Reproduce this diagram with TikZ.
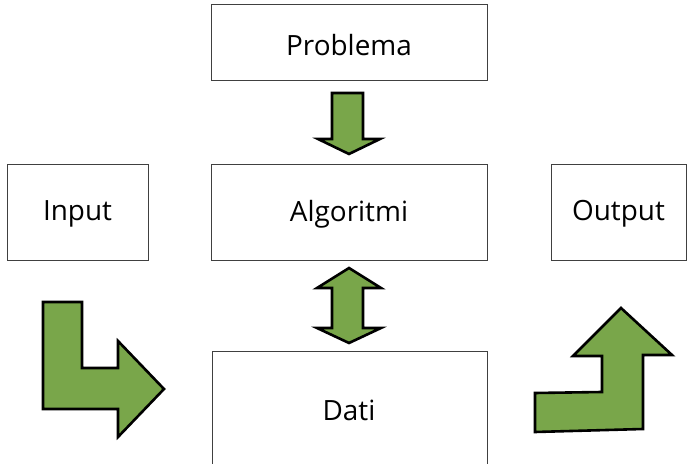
\documentclass[tikz,border=0pt]{standalone}
\usepackage{fontspec}
\setmainfont{Open Sans}
\begin{document}
\begin{tikzpicture}[x=1bp,y=-1bp,
  box/.style={draw=black!75,line width=1bp,fill=white},
  label/.style={font=\fontsize{28}{31}\selectfont,text=black},
  blockarrow/.style={draw=black,line width=2.6bp,fill=arrowgreen,line join=miter}]
\definecolor{arrowgreen}{HTML}{79A64A}
\useasboundingbox (0,0) rectangle (687,464);

% boxes
\draw[box] (211,5) rectangle (487,81);
\draw[box] (7,165) rectangle (148,261);
\draw[box] (211,165) rectangle (487,261);
\draw[box] (551,165) rectangle (686,261);
\draw[box] (212,351) -- (487,351) -- (487,470) (212,351) -- (212,470);

% labels
\node[label] (problema) at (349,45) {Problema};
\node[label] (input) at (77.5,214) {Input};
\node[label] (algoritmi) at (349,214) {Algoritmi};
\node[label] (output) at (618.5,214) {Output};
\node[label] (dati) at (349,410) {Dati};

% down arrow from Problema to Algoritmi
\draw[blockarrow] (332,93) -- (363,93) -- (363,139) -- (380,139) -- (349,154)
  -- (318,139) -- (332,139) -- cycle;

% two-way arrow between Algoritmi and Dati
\draw[blockarrow] (349,268) -- (381,288) -- (363,288) -- (363,328) -- (381,328)
  -- (349,343) -- (317,328) -- (332,328) -- (332,288) -- (317,288) -- cycle;

% bent arrow from Input into Dati
\draw[blockarrow] (43,302) -- (82,302) -- (82,368) -- (118,368) -- (118,341)
  -- (164,389) -- (118,437) -- (118,409) -- (43,409) -- cycle;

% bent arrow from Dati up to Output
\draw[blockarrow] (535,432) -- (535,393) -- (602,392) -- (602,356) -- (573,356)
  -- (621,308) -- (672,355) -- (643,355) -- (643,429) -- cycle;
\end{tikzpicture}
\end{document}
